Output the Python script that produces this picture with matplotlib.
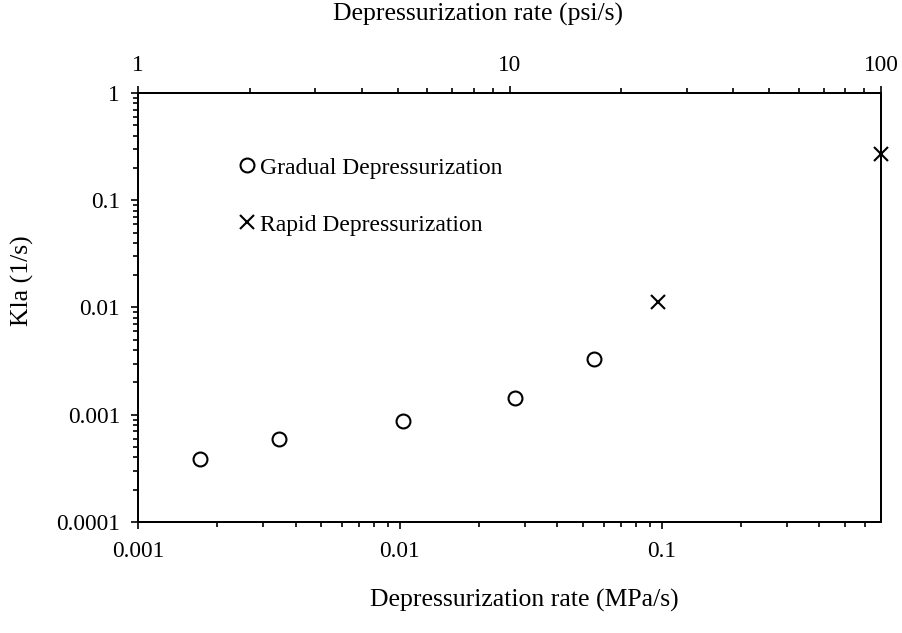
import matplotlib.pyplot as plt
from matplotlib.lines import Line2D

plt.rcParams['font.family'] = 'Liberation Serif'
plt.rcParams['font.size'] = 16.8

# Gradual depressurization runs
gradual_rate = [0.00172, 0.00345, 0.0103, 0.0276, 0.0552]   # MPa/s
gradual_kla = [0.000387, 0.000594, 0.000874, 0.00143, 0.00331]  # 1/s

# Rapid depressurization runs
rapid_rate = [0.0965, 0.6895]   # MPa/s
rapid_kla = [0.0112, 0.27]      # 1/s

x_ticks = [0.001, 0.01, 0.1]
x_tick_labels = ['0.001', '0.01', '0.1']
y_ticks = [0.0001, 0.001, 0.01, 0.1, 1]
y_tick_labels = ['0.0001', '0.001', '0.01', '0.1', '1']
psi_ticks = [1, 10, 100]
psi_tick_labels = ['1', '10', '100']

label_size = 18.5
legend_size = 17

fig = plt.figure(figsize=(9.02, 6.33), dpi=100)
ax = fig.add_axes([0.153, 0.1754, 0.824, 0.6777])

ax.plot(gradual_rate, gradual_kla, linestyle='none', marker='o', markersize=10,
        markerfacecolor='none', markeredgecolor='black', markeredgewidth=1.5, clip_on=False)
ax.plot(rapid_rate, rapid_kla, linestyle='none', marker='x', markersize=10,
        color='black', markeredgewidth=1.5, clip_on=False)

ax.set_xscale('log')
ax.set_yscale('log')
ax.set_xlim(0.001, 0.6895)
ax.set_ylim(0.0001, 1)
ax.set_xticks(x_ticks)
ax.set_xticklabels(x_tick_labels)
ax.set_yticks(y_ticks)
ax.set_yticklabels(y_tick_labels)

for side in ['left', 'bottom', 'top', 'right']:
    ax.spines[side].set_linewidth(1.4)
ax.tick_params(which='major', direction='out', length=5, width=1.2, pad=9)
ax.tick_params(which='minor', direction='out', length=3.5, width=1.2)
ax.tick_params(axis='y', pad=8)

ax.set_xlabel('Depressurization rate (MPa/s)', fontsize=label_size)
ax.xaxis.label.set_verticalalignment('center')
ax.xaxis.set_label_coords(0.5195, -0.184)
ax.set_ylabel('Kla (1/s)', fontsize=label_size)
ax.yaxis.label.set_verticalalignment('center')
ax.yaxis.set_label_coords(-0.156, 0.562)

# top axis in psi/s
top = ax.twiny()
top.set_xscale('log')
top.set_xlim(1, 100)
top.set_xticks(psi_ticks)
top.set_xticklabels(psi_tick_labels)
top.tick_params(which='major', direction='out', length=5, width=1.2, pad=7)
top.tick_params(which='minor', direction='out', length=3.5, width=1.2)
for side in ['left', 'bottom', 'top', 'right']:
    top.spines[side].set_linewidth(1.4)
top.set_xlabel('Depressurization rate (psi/s)', fontsize=label_size)
top.xaxis.label.set_verticalalignment('center')
top.xaxis.set_label_coords(0.4576, 1.183)

handles = [
    Line2D([], [], linestyle='none', marker='o', markersize=10, markerfacecolor='none',
           markeredgecolor='black', markeredgewidth=1.5),
    Line2D([], [], linestyle='none', marker='x', markersize=10, color='black',
           markeredgewidth=1.5),
]
ax.legend(handles, ['Gradual Depressurization', 'Rapid Depressurization'],
          loc='upper left', bbox_to_anchor=(0.118, 0.878), frameon=False,
          fontsize=legend_size, handlelength=0.8, handletextpad=0.15,
          labelspacing=1.5, borderpad=0)

fig.savefig('out.png', dpi=100)
